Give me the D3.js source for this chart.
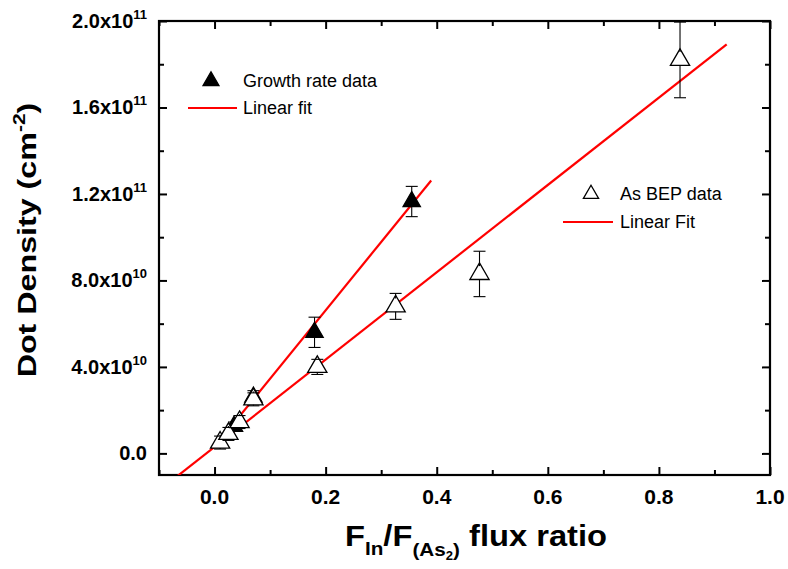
<!DOCTYPE html>
<html>
<head>
<meta charset="utf-8">
<script src="https://cdn.jsdelivr.net/npm/d3@7"></script>
<style>
body { margin: 0; background: #fff; }
text { font-family: Arial, "Liberation Sans", sans-serif; }
</style>
</head>
<body>
<script>
// growth rate data (filled triangles)
var growthX = [0.035, 0.07, 0.18, 0.355];
var growthY = [1.25e10, 2.6e10, 5.6e10, 1.165e11];
var growthErr = [2e9, 3e9, 7e9, 7e9];

// As BEP data (open triangles)
var bepX = [0.01, 0.025, 0.045, 0.07, 0.185, 0.326, 0.477, 0.838];
var bepY = [5e9, 9e9, 1.45e10, 2.5e10, 4.0e10, 6.8e10, 8.3e10, 1.82e11];
var bepErr = [3e9, 3e9, 3e9, 3e9, 3.5e9, 6e9, 1.05e10, 1.75e10];

// linear fit endpoints
var growthFit = [[0.0, 3e9], [0.39, 1.262e11]];
var bepFit = [[-0.1, -1.72e10], [0.922, 1.892e11]];

var xTicks = [0, 0.2, 0.4, 0.6, 0.8, 1.0];
var xMinor = [-0.1, 0.1, 0.3, 0.5, 0.7, 0.9];
var yTicks = [0, 4e10, 8e10, 1.2e11, 1.6e11, 2.0e11];
var yMinor = [2e10, 6e10, 1e11, 1.4e11, 1.8e11];
var yTickMant = ["0.0", "4.0", "8.0", "1.2", "1.6", "2.0"];
var yTickExp = ["", "10", "10", "11", "11", "11"];

var w = 788;
var h = 569;
var pLeft = 159, pRight = 770, pTop = 21, pBottom = 475;

var svg = d3.select("body")
    .append("svg")
    .attr("width", w)
    .attr("height", h);

var xScale = d3.scaleLinear()
    .domain([-0.1, 1.0])
    .range([pLeft, pRight]);

var yScale = d3.scaleLinear()
    .domain([-1e10, 2e11])
    .range([pBottom, pTop]);

svg.append("defs").append("clipPath")
    .attr("id", "plot")
    .append("rect")
    .attr("x", pLeft).attr("y", pTop)
    .attr("width", pRight - pLeft).attr("height", pBottom - pTop);

// ticks, all pointing inward
function drawAxis(axis, tx, ty) {
    var g = svg.append("g")
        .attr("transform", "translate(" + tx + "," + ty + ")")
        .call(axis);
    g.select(".domain").remove();
    g.selectAll("line").attr("stroke", "#000").attr("stroke-width", 2);
    g.selectAll("text").remove();
}
drawAxis(d3.axisBottom(xScale).tickValues(xTicks).tickSize(-8), 0, pBottom);
drawAxis(d3.axisBottom(xScale).tickValues(xMinor).tickSize(-5), 0, pBottom);
drawAxis(d3.axisTop(xScale).tickValues(xTicks).tickSize(-8), 0, pTop);
drawAxis(d3.axisTop(xScale).tickValues(xMinor).tickSize(-5), 0, pTop);
drawAxis(d3.axisLeft(yScale).tickValues(yTicks).tickSize(-8), pLeft, 0);
drawAxis(d3.axisLeft(yScale).tickValues(yMinor).tickSize(-5), pLeft, 0);
drawAxis(d3.axisRight(yScale).tickValues(yTicks).tickSize(-8), pRight, 0);
drawAxis(d3.axisRight(yScale).tickValues(yMinor).tickSize(-5), pRight, 0);

svg.append("rect")
    .attr("x", pLeft).attr("y", pTop)
    .attr("width", pRight - pLeft).attr("height", pBottom - pTop)
    .attr("fill", "none")
    .attr("stroke", "#000")
    .attr("stroke-width", 2.2);

// tick labels
svg.selectAll(".xlab")
    .data(xTicks)
    .enter()
    .append("text")
    .attr("x", function(d) { return xScale(d); })
    .attr("y", pBottom + 29)
    .attr("text-anchor", "middle")
    .attr("font-size", 21)
    .attr("font-weight", "bold")
    .text(function(d) { return d.toFixed(1); });

yTicks.forEach(function(d, i) {
    var t = svg.append("text")
        .attr("x", 147)
        .attr("y", yScale(d) + 7)
        .attr("text-anchor", "end")
        .attr("font-size", 20)
        .attr("font-weight", "bold");
    if (yTickExp[i] === "") {
        t.text(yTickMant[i]);
    } else {
        t.append("tspan").text(yTickMant[i] + "x10");
        t.append("tspan").attr("dy", -9).attr("font-size", 13).text(yTickExp[i]);
    }
});

// axis titles (the original font is wide, so stretch along the text)
var yt = svg.append("text")
    .attr("transform", "translate(36,240) rotate(-90) scale(1.24,1)")
    .attr("text-anchor", "middle")
    .attr("font-size", 26)
    .attr("font-weight", "bold");
yt.append("tspan").text("Dot Density (cm");
yt.append("tspan").attr("dy", -11).attr("font-size", 17).text("-2");
yt.append("tspan").attr("dy", 11).text(")");

var xt = svg.append("text")
    .attr("transform", "translate(476,546) scale(1.09,1)")
    .attr("text-anchor", "middle")
    .attr("font-size", 30)
    .attr("font-weight", "bold");
xt.append("tspan").text("F");
xt.append("tspan").attr("dy", 9).attr("font-size", 19).text("In");
xt.append("tspan").attr("dy", -9).text("/F");
xt.append("tspan").attr("dy", 10).attr("font-size", 19).text("(As");
xt.append("tspan").attr("dy", 4).attr("font-size", 12).text("2");
xt.append("tspan").attr("dy", -4).attr("font-size", 19).text(")");
xt.append("tspan").attr("dy", -10).text(" flux ratio");

// fit lines
var line = d3.line()
    .x(function(d) { return xScale(d[0]); })
    .y(function(d) { return yScale(d[1]); });

var plot = svg.append("g").attr("clip-path", "url(#plot)");

[bepFit, growthFit].forEach(function(f) {
    plot.append("path")
        .attr("d", line(f))
        .attr("fill", "none")
        .attr("stroke", "#ff0000")
        .attr("stroke-width", 2.2);
});

// triangles and error bars
var tri = d3.symbol().type(d3.symbolTriangle);

function drawSeries(xs, ys, errs, filled, size) {
    var half = Math.sqrt(size) * 0.62;
    xs.forEach(function(xv, i) {
        var cx = xScale(xv), cy = yScale(ys[i]);
        plot.append("path")
            .attr("d", tri.size(size)())
            .attr("transform", "translate(" + cx + "," + cy + ")")
            .attr("fill", filled ? "#000" : "#fff")
            .attr("stroke", "#000")
            .attr("stroke-width", 1.3);
        var yTop = yScale(ys[i] + errs[i]);
        var yBot = yScale(ys[i] - errs[i]);
        var segs = [[cy - half, yTop], [cy + half * 0.7, yBot]];
        segs.forEach(function(s) {
            plot.append("line")
                .attr("x1", cx).attr("x2", cx)
                .attr("y1", s[0]).attr("y2", s[1])
                .attr("stroke", "#000").attr("stroke-width", 1.1);
            plot.append("line")
                .attr("x1", cx - 6).attr("x2", cx + 6)
                .attr("y1", s[1]).attr("y2", s[1])
                .attr("stroke", "#000").attr("stroke-width", 1.1);
        });
    });
}

drawSeries(growthX, growthY, growthErr, true, 130);
drawSeries(bepX, bepY, bepErr, false, 160);

// legends
function legendMarker(x, y, filled) {
    svg.append("path")
        .attr("d", tri.size(filled ? 110 : 100)())
        .attr("transform", "translate(" + x + "," + y + ")")
        .attr("fill", filled ? "#000" : "#fff")
        .attr("stroke", "#000")
        .attr("stroke-width", 1.3);
}
function legendLine(x1, x2, y) {
    svg.append("line")
        .attr("x1", x1).attr("x2", x2)
        .attr("y1", y).attr("y2", y)
        .attr("stroke", "#ff0000")
        .attr("stroke-width", 2);
}
function legendText(x, y, s) {
    svg.append("text")
        .attr("x", x).attr("y", y)
        .attr("font-size", 18)
        .text(s);
}

legendMarker(211, 81, true);
legendText(243, 87, "Growth rate data");
legendLine(188, 237, 108);
legendText(243, 114, "Linear fit");

legendMarker(591, 194, false);
legendText(620, 200, "As BEP data");
legendLine(563, 613, 222);
legendText(620, 228, "Linear Fit");
</script>
</body>
</html>
